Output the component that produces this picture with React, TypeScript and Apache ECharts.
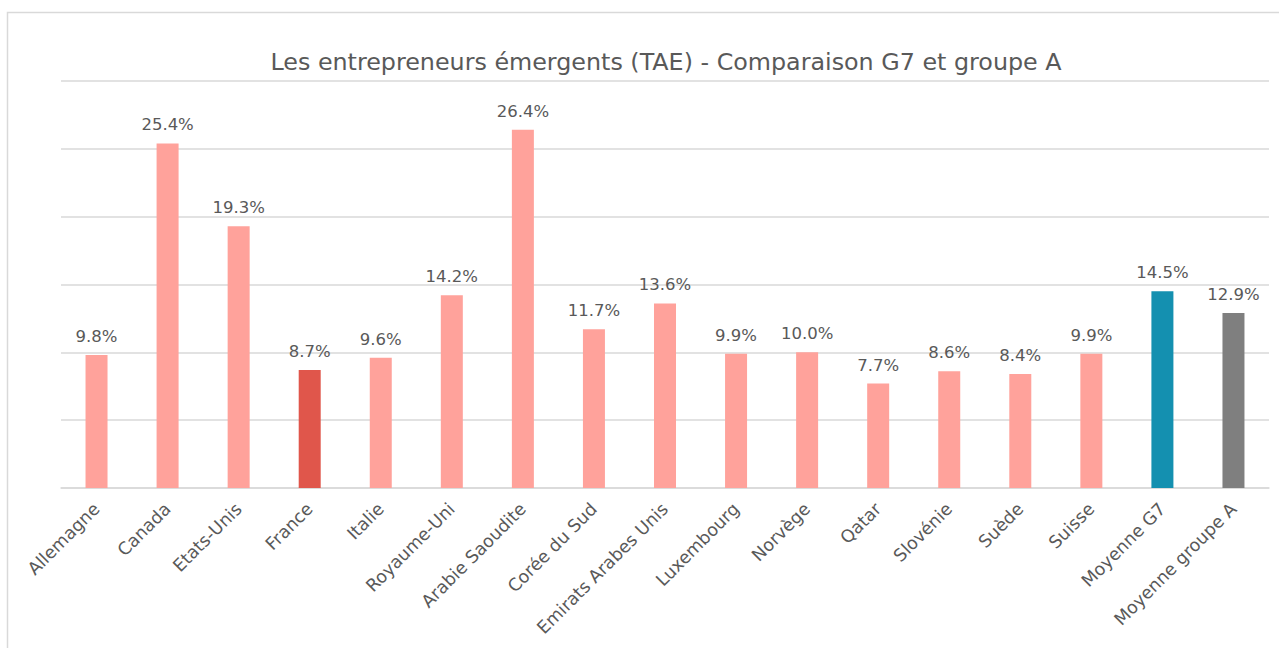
import React, { useEffect, useRef } from "react";
import * as echarts from "echarts";

const categories = [
  "Allemagne", "Canada", "Etats-Unis", "France", "Italie", "Royaume-Uni",
  "Arabie Saoudite", "Corée du Sud", "Emirats Arabes Unis", "Luxembourg",
  "Norvège", "Qatar", "Slovénie", "Suède", "Suisse", "Moyenne G7", "Moyenne groupe A",
];
const values = [9.8, 25.4, 19.3, 8.7, 9.6, 14.2, 26.4, 11.7, 13.6, 9.9, 10.0, 7.7, 8.6, 8.4, 9.9, 14.5, 12.9];
const barColors = [
  "#FFA29B", "#FFA29B", "#FFA29B", "#E0564B", "#FFA29B", "#FFA29B", "#FFA29B",
  "#FFA29B", "#FFA29B", "#FFA29B", "#FFA29B", "#FFA29B", "#FFA29B", "#FFA29B",
  "#FFA29B", "#1490B0", "#7F7F7F",
];
const titleText = "Les entrepreneurs émergents (TAE) - Comparaison G7 et groupe A";

export default function App() {
  const ref = useRef<HTMLDivElement>(null);
  useEffect(() => {
    if (!ref.current) return;
    const chart = echarts.init(ref.current, null, { renderer: "svg" });
    const font = "'DejaVu Sans', 'Noto Sans', sans-serif";
    chart.setOption({
      animation: false,
      backgroundColor: "#ffffff",
      title: {
        text: titleText,
        left: 661,
        top: 45,
        textAlign: "center",
        textStyle: { fontFamily: font, fontSize: 23.8, fontWeight: "normal", color: "#595959" },
      },
      graphic: [
        {
          type: "rect",
          shape: { x: 7.5, y: 12.5, width: 1290, height: 660 },
          style: { fill: "none", stroke: "#d9d9d9", lineWidth: 1.5 },
          silent: true,
        },
      ],
      grid: { left: 61, right: 10, top: 81, bottom: 160, containLabel: false },
      xAxis: {
        type: "category",
        data: categories,
        axisLine: { lineStyle: { color: "#d9d9d9", width: 1.5 } },
        axisTick: { show: false },
        axisLabel: {
          rotate: 45,
          interval: 0,
          margin: 18,
          fontFamily: font,
          fontSize: 17.5,
          color: "#595959",
        },
      },
      yAxis: {
        type: "value",
        min: 0,
        max: 30,
        interval: 5,
        axisLabel: { show: false },
        axisLine: { show: false },
        axisTick: { show: false },
        splitLine: { lineStyle: { color: "#d9d9d9", width: 1.5 } },
      },
      series: [
        {
          type: "bar",
          barWidth: 22,
          data: values.map((v, i) => ({ value: v, itemStyle: { color: barColors[i] } })),
          label: {
            show: true,
            position: "top",
            distance: 10,
            formatter: (p: any) => p.value.toFixed(1) + "%",
            fontFamily: font,
            fontSize: 16.5,
            color: "#595959",
          },
        },
      ],
    });
    return () => chart.dispose();
  }, []);
  return (
    <div
      ref={ref}
      style={{ position: "absolute", left: 0, top: 0, width: 1279, height: 648 }}
    />
  );
}
